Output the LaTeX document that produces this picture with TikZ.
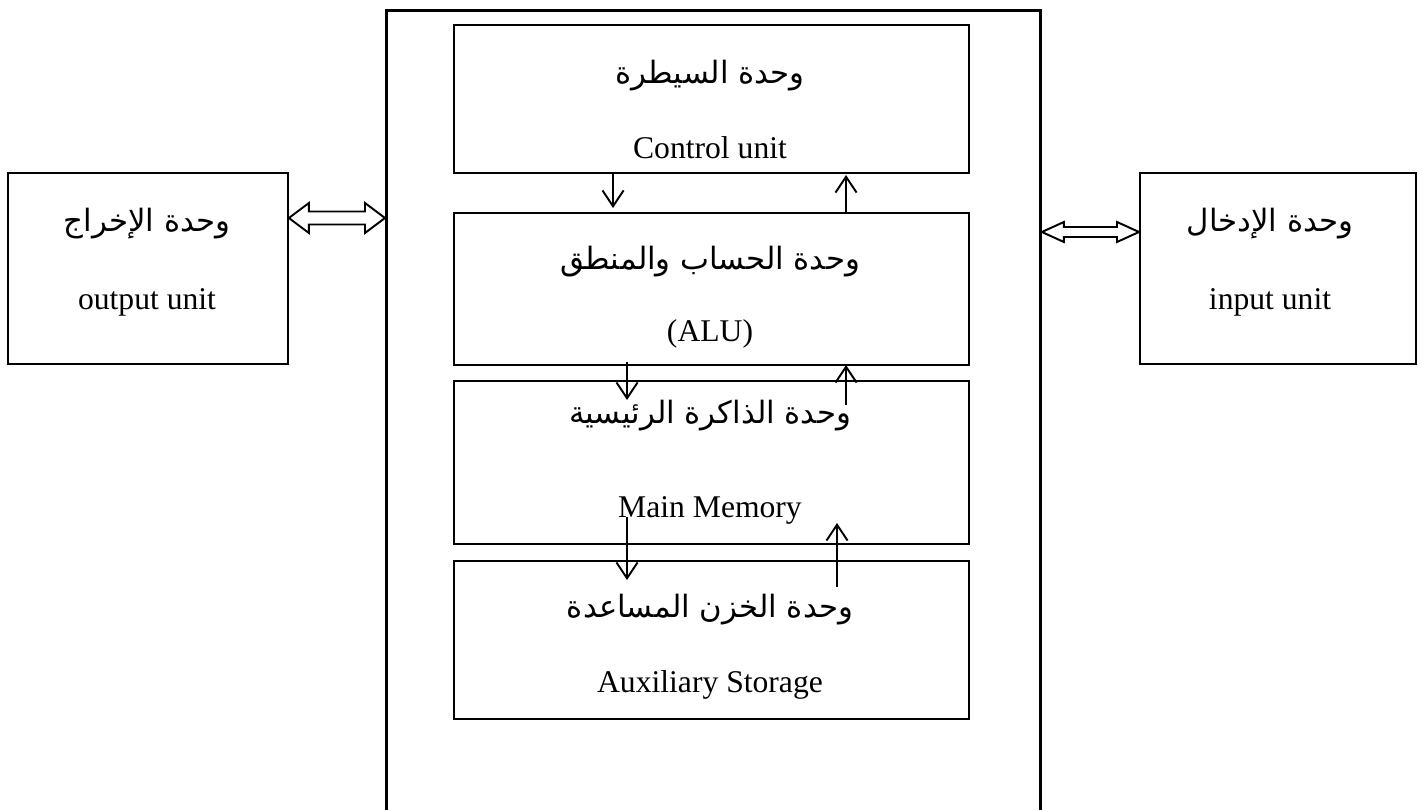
\documentclass[tikz,border=0pt]{standalone}
\usepackage{fontspec}
\setmainfont{Liberation Serif}
\newfontfamily\arabicfont[Script=Arabic]{DejaVu Sans}
\TeXXeTstate=1
\usetikzlibrary{arrows.meta,calc}
\newcommand\artxt[1]{{\arabicfont\beginR #1\endR}}
\begin{document}
\begin{tikzpicture}[x=0.02cm,y=-0.02cm,
  box/.style={draw, line width=1.1pt, inner sep=0pt, anchor=north west},
  outerbox/.style={draw, line width=1.7pt, inner sep=0pt, anchor=north west},
  en/.style={font=\fontsize{18}{20}\selectfont, inner sep=0pt},
  ar/.style={font=\fontsize{17.5}{20}\selectfont, inner sep=0pt},
  varr/.style={line width=1.1pt, -{Straight Barb[length=9pt,width=12pt,line width=1.1pt]}},
  dblarr/.style={draw, line width=1.1pt, line join=miter}]
\useasboundingbox (0,0) rectangle (1422,810);
% outer CPU frame (open at bottom)
\node[outerbox, minimum width=13.08cm, minimum height=16.8cm] (cpu) at (385,9) {};
% inner units
\node[box, minimum width=10.3cm, minimum height=2.96cm] (ctrl) at (453,24) {};
\node[box, minimum width=10.3cm, minimum height=3.04cm] (alu) at (453,212) {};
\node[box, minimum width=10.3cm, minimum height=3.26cm] (mem) at (453,380) {};
\node[box, minimum width=10.3cm, minimum height=3.16cm] (aux) at (453,560) {};
\node[box, minimum width=5.6cm, minimum height=3.82cm] (out) at (7,172) {};
\node[box, minimum width=5.52cm, minimum height=3.82cm] (in) at (1139,172) {};
% texts
\node[ar] (ctrlA) at (710,76) {\artxt{وحدة السيطرة}};
\node[en] (ctrlE) at (710,148) {Control unit};
\node[ar] (aluA) at (710,262) {\artxt{وحدة الحساب والمنطق}};
\node[en] (aluE) at (710,334) {(ALU)};
\node[ar] (memA) at (710,416) {\artxt{وحدة الذاكرة الرئيسية}};
\node[en] (memE) at (710,510) {Main Memory};
\node[ar] (auxA) at (710,610) {\artxt{وحدة الخزن المساعدة}};
\node[en] (auxE) at (710,685) {Auxiliary Storage};
\node[ar] (outA) at (147,224) {\artxt{وحدة الإخراج}};
\node[en] (outE) at (147,302) {output unit};
\node[ar] (inA) at (1270,224) {\artxt{وحدة الإدخال}};
\node[en] (inE) at (1270,302) {input unit};
% vertical arrows
\coordinate (c1) at (613,208);
\coordinate (c2) at (846,175);
\coordinate (c3s) at (627,362);
\coordinate (c3) at (627,400);
\coordinate (c4s) at (846,405);
\coordinate (c4) at (846,365);
\coordinate (c5s) at (627,517);
\coordinate (c5) at (627,580);
\coordinate (c6s) at (837,587);
\coordinate (c6) at (837,523);
\draw[varr] (ctrl.south -| c1) -- (c1);
\draw[varr] (alu.north -| c2) -- (c2);
\draw[varr] (c3s) -- (c3);
\draw[varr] (c4s) -- (c4);
\draw[varr] (c5s) -- (c5);
\draw[varr] (c6s) -- (c6);
% double arrows
\coordinate (la) at (out.east |- 0,218);
\coordinate (lb) at (cpu.west |- 0,218);
\draw[dblarr] (la) -- ($(la)+(20,-15)$) -- ($(la)+(20,-6.5)$) -- ($(lb)+(-20,-6.5)$) -- ($(lb)+(-20,-15)$) -- (lb)
  -- ($(lb)+(-20,15)$) -- ($(lb)+(-20,6.5)$) -- ($(la)+(20,6.5)$) -- ($(la)+(20,15)$) -- cycle;
\coordinate (ra) at (cpu.east |- 0,232);
\coordinate (rb) at (in.west |- 0,232);
\draw[dblarr] (ra) -- ($(ra)+(22,-10)$) -- ($(ra)+(22,-5)$) -- ($(rb)+(-22,-5)$) -- ($(rb)+(-22,-10)$) -- (rb)
  -- ($(rb)+(-22,10)$) -- ($(rb)+(-22,5)$) -- ($(ra)+(22,5)$) -- ($(ra)+(22,10)$) -- cycle;
\end{tikzpicture}
\end{document}
